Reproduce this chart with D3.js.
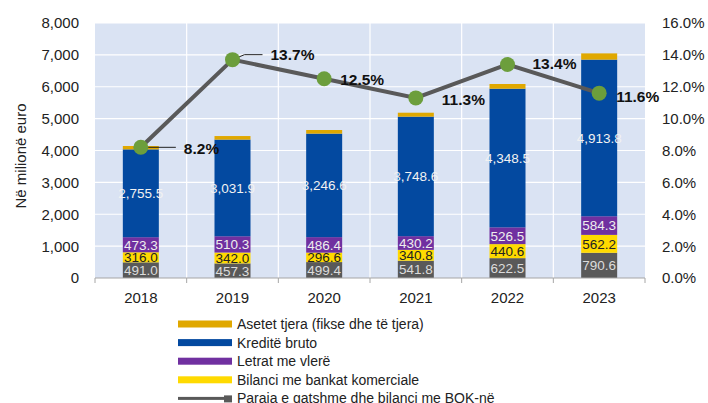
<!DOCTYPE html>
<html>
<head>
<meta charset="utf-8">
<script src="https://cdn.jsdelivr.net/npm/d3@7"></script>
<style>
  body { margin: 0; background: #fff; }
  svg { font-family: "Liberation Sans", Arial, sans-serif; }
</style>
</head>
<body>
<svg id="chart" width="708" height="403"></svg>
<script>
// values
const years = ["2018", "2019", "2020", "2021", "2022", "2023"];
const paraja = [491.0, 457.3, 499.4, 541.8, 622.5, 790.6];
const bilanci = [316.0, 342.0, 296.6, 340.8, 440.6, 562.2];
const letrat = [473.3, 510.3, 486.4, 430.2, 526.5, 584.3];
const kredite = [2755.5, 3031.9, 3246.6, 3748.6, 4348.5, 4913.8];
const asetet = [105, 112, 114, 124, 148, 196];
const ratio = [8.2, 13.7, 12.5, 11.3, 13.4, 11.6];

const leftTicks = [0, 1000, 2000, 3000, 4000, 5000, 6000, 7000, 8000];
const rightTicks = [0, 2, 4, 6, 8, 10, 12, 14, 16];

const seriesKeys = ["paraja", "bilanci", "letrat", "kredite", "asetet"];
const seriesNames = {
    paraja: "Paraja e gatshme dhe bilanci me BQK-në",
    bilanci: "Bilanci me bankat komerciale",
    letrat: "Letrat me vlerë",
    kredite: "Kreditë bruto",
    asetet: "Asetet tjera (fikse dhe të tjera)"
};
const colors = {
    paraja: "#595959",
    bilanci: "#ffda00",
    letrat: "#7030a0",
    kredite: "#0349a0",
    asetet: "#e0a800"
};
const labelColors = {
    paraja: "#dcdcdc",
    bilanci: "#222",
    letrat: "#eee",
    kredite: "#f2f2f2"
};

const rows = years.map((y, i) => ({
    year: y, paraja: paraja[i], bilanci: bilanci[i], letrat: letrat[i],
    kredite: kredite[i], asetet: asetet[i], ratio: ratio[i]
}));

const svg = d3.select("#chart");
const plot = { left: 95, right: 645, top: 23, bottom: 278 };

const x = d3.scaleBand().domain(years).range([plot.left, plot.right]);
const y = d3.scaleLinear().domain([0, 8000]).range([plot.bottom, plot.top]);
const y2 = d3.scaleLinear().domain([0, 16]).range([plot.bottom, plot.top]);

// plot background + grid
svg.append("rect")
    .attr("x", plot.left).attr("y", plot.top)
    .attr("width", plot.right - plot.left).attr("height", plot.bottom - plot.top)
    .attr("fill", "#dae3f3");

svg.append("g").selectAll("line")
    .data(leftTicks.slice(1)).join("line")
    .attr("x1", plot.left).attr("x2", plot.right)
    .attr("y1", d => y(d)).attr("y2", d => y(d))
    .attr("stroke", "#fff").attr("stroke-width", 1.2);

svg.append("g").selectAll("line")
    .data(years.slice(1)).join("line")
    .attr("x1", d => x(d)).attr("x2", d => x(d))
    .attr("y1", plot.top).attr("y2", plot.bottom)
    .attr("stroke", "#fff").attr("stroke-width", 1.2);

// stacked bars
const stacked = d3.stack().keys(seriesKeys)(rows);
const barW = 36;

const layers = svg.append("g").selectAll("g")
    .data(stacked).join("g")
    .attr("fill", d => colors[d.key]);

layers.selectAll("rect")
    .data(d => d).join("rect")
    .attr("x", d => x(d.data.year) + x.bandwidth() / 2 - barW / 2)
    .attr("width", barW)
    .attr("y", d => y(d[1]))
    .attr("height", d => y(d[0]) - y(d[1]));

// segment labels
stacked.filter(s => s.key !== "asetet").forEach(s => {
    svg.append("g").selectAll("text")
        .data(s).join("text")
        .attr("x", d => x(d.data.year) + x.bandwidth() / 2)
        .attr("y", d => (y(d[0]) + y(d[1])) / 2)
        .attr("dy", "0.36em")
        .attr("text-anchor", "middle")
        .attr("font-size", 13.5)
        .attr("fill", labelColors[s.key])
        .text(d => d3.format(",.1f")(d.data[s.key]));
});

// bottom axis
const axisG = svg.append("g");
axisG.append("line")
    .attr("x1", plot.left).attr("x2", plot.right)
    .attr("y1", plot.bottom).attr("y2", plot.bottom)
    .attr("stroke", "#a6a6a6").attr("stroke-width", 1.2);
axisG.selectAll("line.tick")
    .data(years.concat(["end"])).join("line")
    .attr("class", "tick")
    .attr("x1", (d, i) => plot.left + i * x.bandwidth())
    .attr("x2", (d, i) => plot.left + i * x.bandwidth())
    .attr("y1", plot.bottom).attr("y2", plot.bottom + 5)
    .attr("stroke", "#a6a6a6");
axisG.selectAll("text")
    .data(years).join("text")
    .attr("x", d => x(d) + x.bandwidth() / 2)
    .attr("y", 298).attr("dy", "0.36em")
    .attr("text-anchor", "middle")
    .attr("font-size", 15).attr("fill", "#222")
    .text(d => d);

// left axis labels
svg.append("g").selectAll("text")
    .data(leftTicks).join("text")
    .attr("x", 79).attr("y", d => y(d)).attr("dy", "0.36em")
    .attr("text-anchor", "end")
    .attr("font-size", 15).attr("fill", "#222")
    .text(d => d3.format(",")(d));

// right axis labels
svg.append("g").selectAll("text")
    .data(rightTicks).join("text")
    .attr("x", 662).attr("y", d => y2(d)).attr("dy", "0.36em")
    .attr("text-anchor", "start")
    .attr("font-size", 15).attr("fill", "#222")
    .text(d => d3.format(".1f")(d) + "%");

// y title
svg.append("text")
    .attr("transform", "translate(26,156) rotate(-90)")
    .attr("text-anchor", "middle")
    .attr("font-size", 15).attr("fill", "#222")
    .text("Në milionë euro");

// ratio line
const cx = d => x(d.year) + x.bandwidth() / 2;
svg.append("path")
    .datum(rows)
    .attr("fill", "none")
    .attr("stroke", "#595959").attr("stroke-width", 4)
    .attr("d", d3.line().x(cx).y(d => y2(d.ratio)));

// leader lines for first two labels
svg.append("path")
    .attr("d", `M${cx(rows[0])},${y2(ratio[0])} L${cx(rows[0]) + 35},${y2(ratio[0])}`)
    .attr("stroke", "#222").attr("stroke-width", 1).attr("fill", "none");
svg.append("path")
    .attr("d", `M${cx(rows[1])},${y2(ratio[1])} L${cx(rows[1]) + 12},${y2(ratio[1]) - 5} L${cx(rows[1]) + 30},${y2(ratio[1]) - 5}`)
    .attr("stroke", "#222").attr("stroke-width", 1).attr("fill", "none");

svg.append("g").selectAll("circle")
    .data(rows).join("circle")
    .attr("cx", cx).attr("cy", d => y2(d.ratio))
    .attr("r", 7.5)
    .attr("fill", "#6c9e3c");

// ratio labels, offsets relative to marker
const ratioOffsets = [[43, 1], [38, -5], [16, 1], [26, 2], [25, -1], [17, 3]];
svg.append("g").selectAll("text")
    .data(rows).join("text")
    .attr("x", (d, i) => cx(d) + ratioOffsets[i][0])
    .attr("y", (d, i) => y2(d.ratio) + ratioOffsets[i][1])
    .attr("dy", "0.36em")
    .attr("font-size", 15.5).attr("font-weight", "bold").attr("fill", "#111")
    .text(d => d3.format(".1f")(d.ratio) + "%");

// legend
const legendOrder = ["asetet", "kredite", "letrat", "bilanci", "paraja"];
const legend = svg.append("g").selectAll("g")
    .data(legendOrder).join("g")
    .attr("transform", (d, i) => `translate(178,${324 + i * 18.6})`);
legend.each(function(d) {
    const g = d3.select(this);
    if (d === "paraja") {
        g.append("rect").attr("x", 0).attr("y", -1.5).attr("width", 48).attr("height", 3).attr("fill", colors[d]);
        g.append("rect").attr("x", 46).attr("y", -3).attr("width", 8).attr("height", 7).attr("fill", colors[d]);
    } else {
        g.append("rect").attr("x", 0).attr("y", -3.5).attr("width", 54).attr("height", 7).attr("fill", colors[d]);
    }
    g.append("text")
        .attr("x", 59).attr("dy", "0.36em")
        .attr("font-size", 14).attr("fill", "#222")
        .text(seriesNames[d]);
});
</script>
</body>
</html>
